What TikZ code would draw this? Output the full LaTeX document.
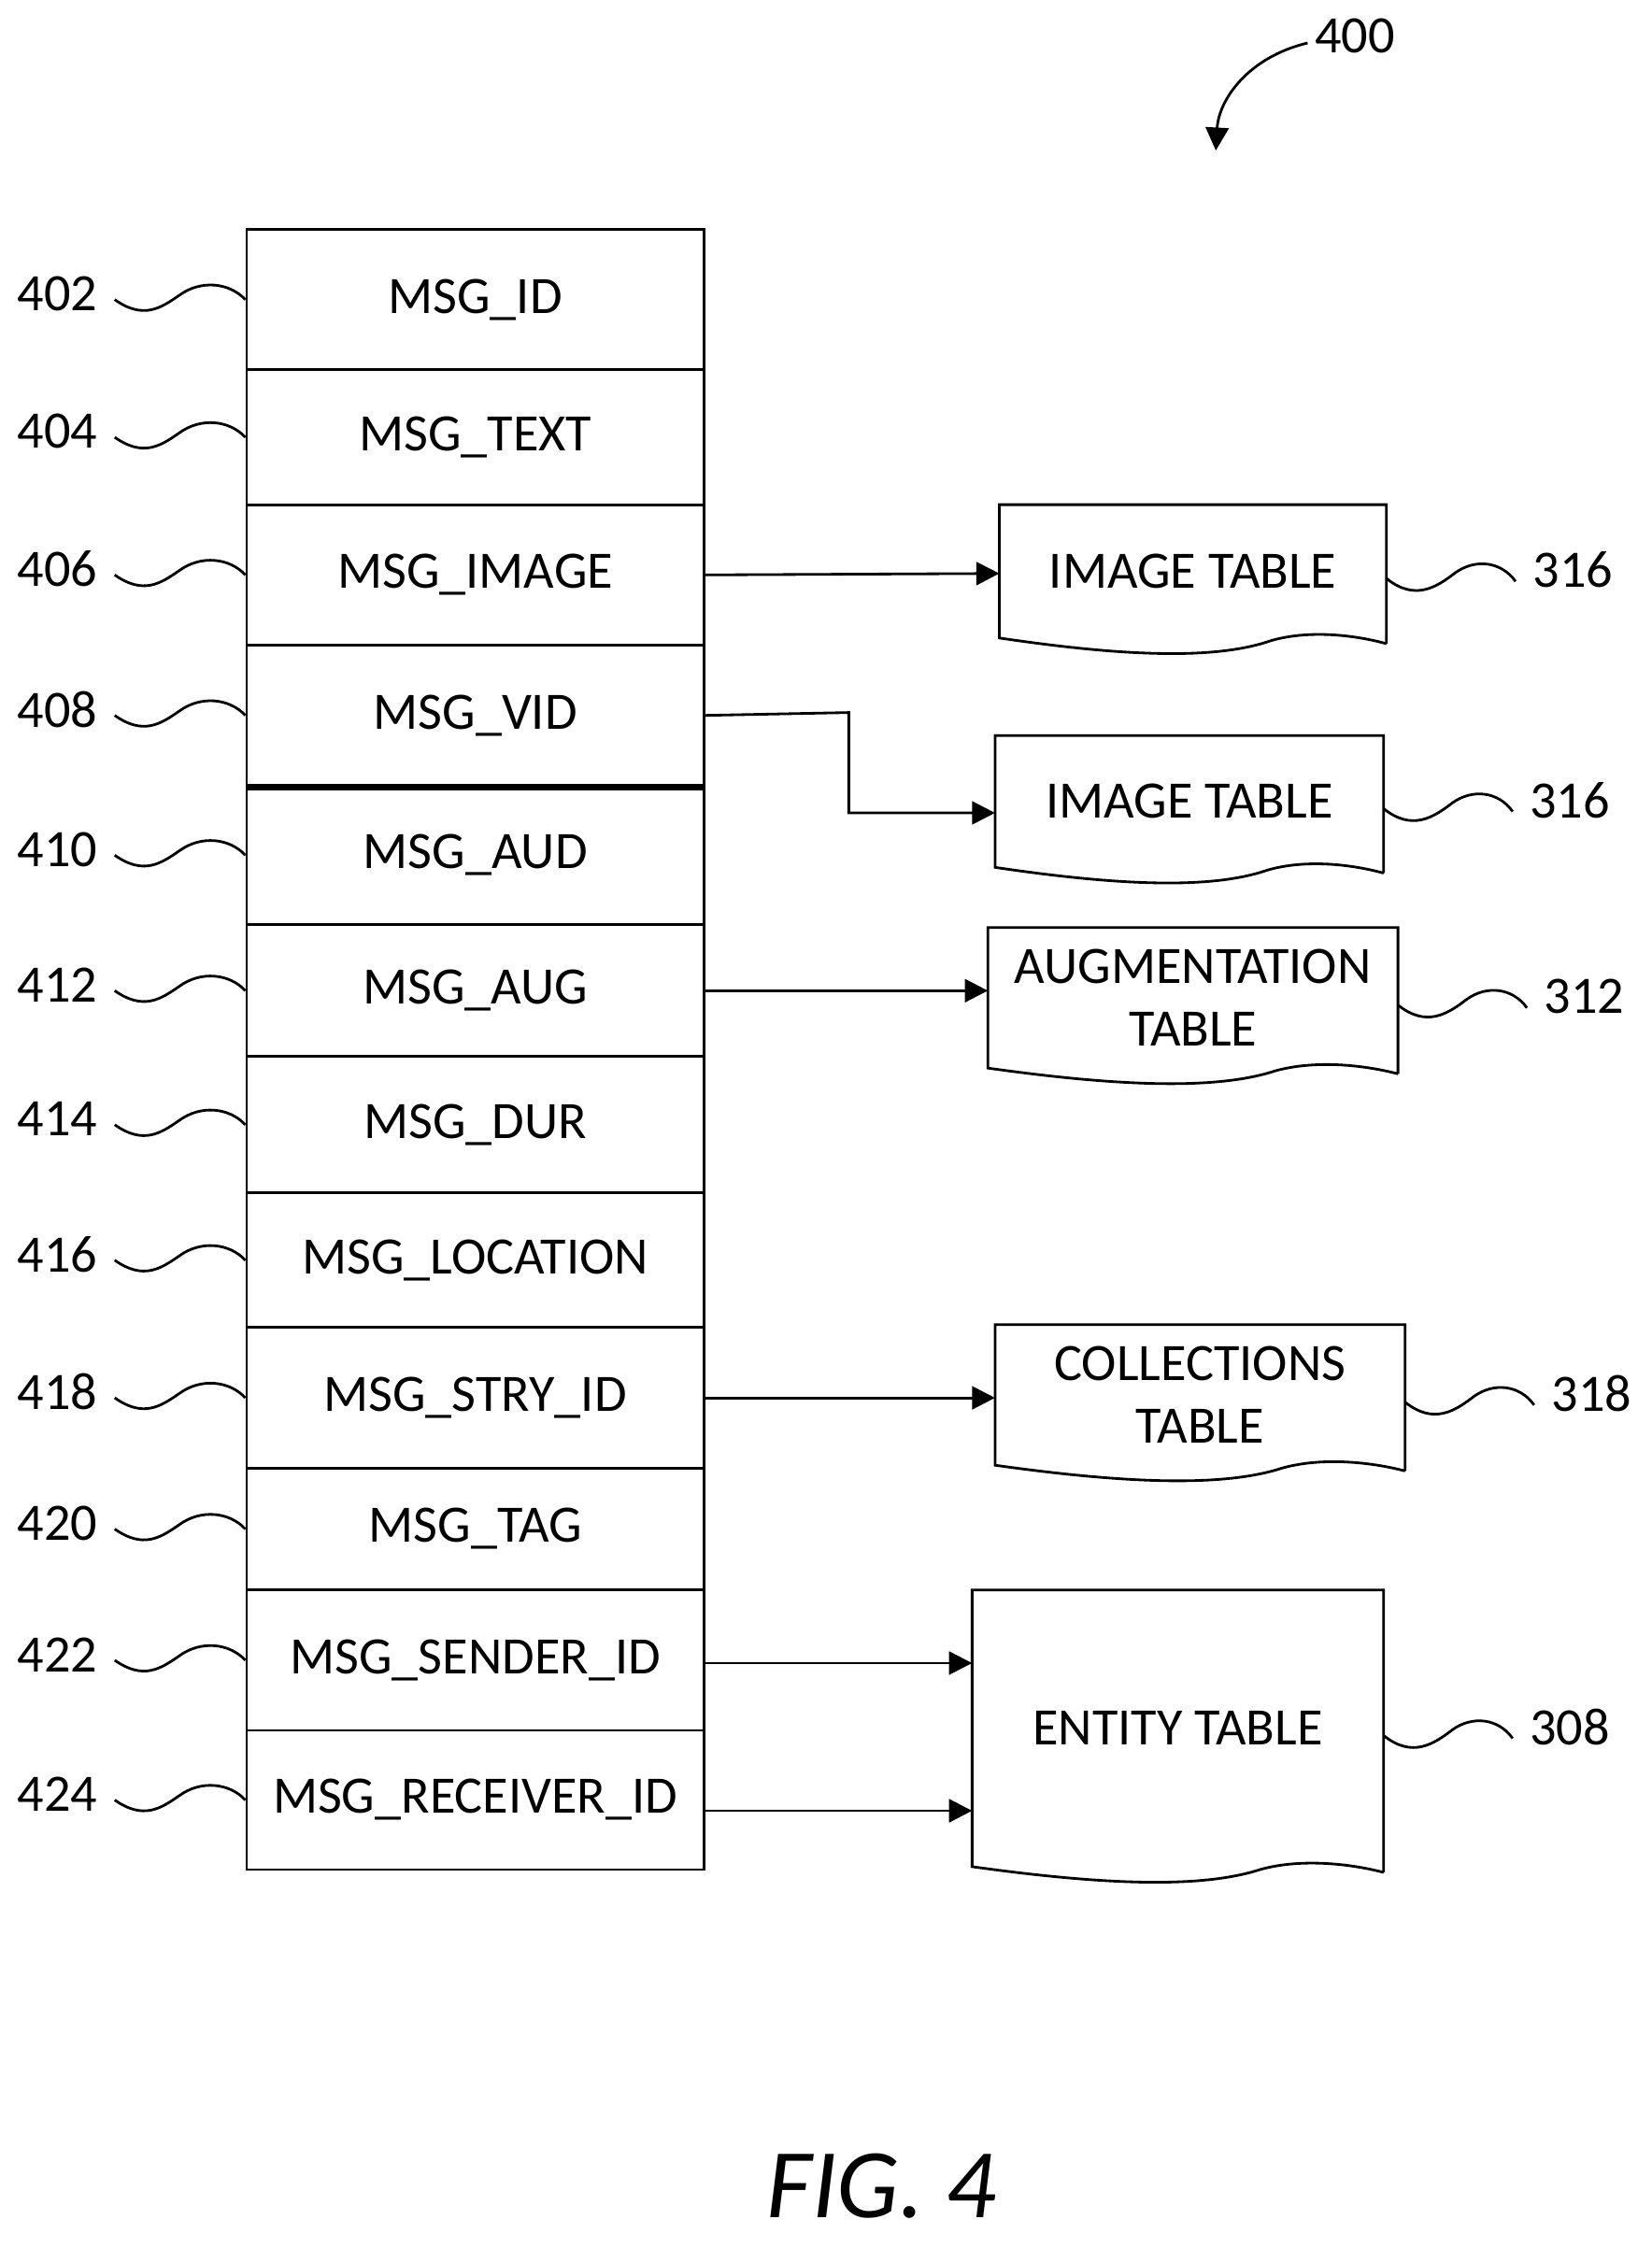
\documentclass[tikz,border=0pt]{standalone}
\usepackage{fontspec}
\setmainfont{Carlito}
\usetikzlibrary{arrows.meta}
\begin{document}
\begin{tikzpicture}[x=0.01534cm,y=-0.01534cm,font=\fontsize{16}{19}\selectfont]
\tikzstyle{field}=[draw,line width=0.8pt,minimum width=319*0.01534cm,inner sep=0pt]
\tikzstyle{link}=[-{Triangle[length=7pt,width=7pt]},line width=0.8pt]
\tikzstyle{squig}=[line width=0.8pt]
\useasboundingbox (0,0) rectangle (1152,1568);
% message fields
\foreach \name/\ya/\yb/\txt/\num in {id/160/258/MSG\_ID/402, text/258/352/MSG\_TEXT/404,
  image/352/450/MSG\_IMAGE/406, vid/450/548/MSG\_VID/408, aud/548/645/MSG\_AUD/410,
  aug/645/737/MSG\_AUG/412, dur/737/832/MSG\_DUR/414, loc/832/926/MSG\_LOCATION/416,
  stry/926/1024/MSG\_STRY\_ID/418, tag/1024/1109/MSG\_TAG/420,
  sender/1109/1207/MSG\_SENDER\_ID/422, receiver/1207/1304/MSG\_RECEIVER\_ID/424}{
  \node[field,minimum height={(\yb-\ya)*0.01534cm}] (\name) at (331.5,{(\ya+\yb)/2}) {\txt};
  \node (l\name) at (40,{(\ya+\yb)/2-4}) {\num};
  \draw[squig] (80,{(\ya+\yb)/2}) .. controls (100,{(\ya+\yb)/2+14}) and (112,{(\ya+\yb)/2+6}) .. (125,{(\ya+\yb)/2-3})
    .. controls (140,{(\ya+\yb)/2-14}) and (160,{(\ya+\yb)/2-12}) .. (\name.west);
}
\draw[line width=2pt] (vid.south west) -- (vid.south east);
% referenced tables
\foreach \name/\xa/\ya/\xb/\yb/\txt/\num in {imgA/697/352/967/455/IMAGE TABLE/316,
  imgB/694/513/965/615/IMAGE TABLE/316, augt/689/647/975/755/AUGMENTATION\\TABLE/312,
  coll/694/924/980/1032/COLLECTIONS\\TABLE/318, ent/678/1109/965/1312/ENTITY TABLE/308}{
  \node[align=center,inner sep=0pt] (\name) at ({(\xa+\xb)/2},{(\ya+\yb)/2-5}) {\txt};
  \draw[line width=0.8pt] (\xb,{\yb-6}) -- (\xb,\ya) -- (\xa,\ya) -- (\xa,{\yb-10})
    .. controls ({\xa+(\xb-\xa)*0.3},{\yb+2}) and ({\xa+(\xb-\xa)*0.55},{\yb+6}) .. ({\xa+(\xb-\xa)*0.7},{\yb-8})
    .. controls ({\xa+(\xb-\xa)*0.8},{\yb-16}) and ({\xa+(\xb-\xa)*0.92},{\yb-12}) .. (\xb,{\yb-6});
  \node (r\name) at ({\xb+130},{(\ya+\yb)/2-6}) {\num};
  \draw[squig] ({\xb},{(\ya+\yb)/2}) .. controls ({\xb+20},{(\ya+\yb)/2+16}) and ({\xb+35},{(\ya+\yb)/2+6}) .. ({\xb+48},{(\ya+\yb)/2-4})
    .. controls ({\xb+62},{(\ya+\yb)/2-14}) and ({\xb+80},{(\ya+\yb)/2-12}) .. ({\xb+90},{(\ya+\yb)/2+2});
}
\draw[link] (image.east) -- (697,400);
\draw[link] (vid.east) -- (592,497) |- (694,567);
\draw[link] (aug.east) -- (689,691);
\draw[link] (stry.east) -- (694,975);
\draw[link] (491,1160) -- (678,1160);
\draw[link] (491,1263) -- (678,1263);
% figure number
\node (fig) at (945,25) {400};
\draw[link] (912,30) .. controls (870,40) and (850,70) .. (848,105);
\node[font=\fontsize{30}{36}\selectfont\itshape] (title) at (615,1525) {FIG. 4};
\end{tikzpicture}
\end{document}
